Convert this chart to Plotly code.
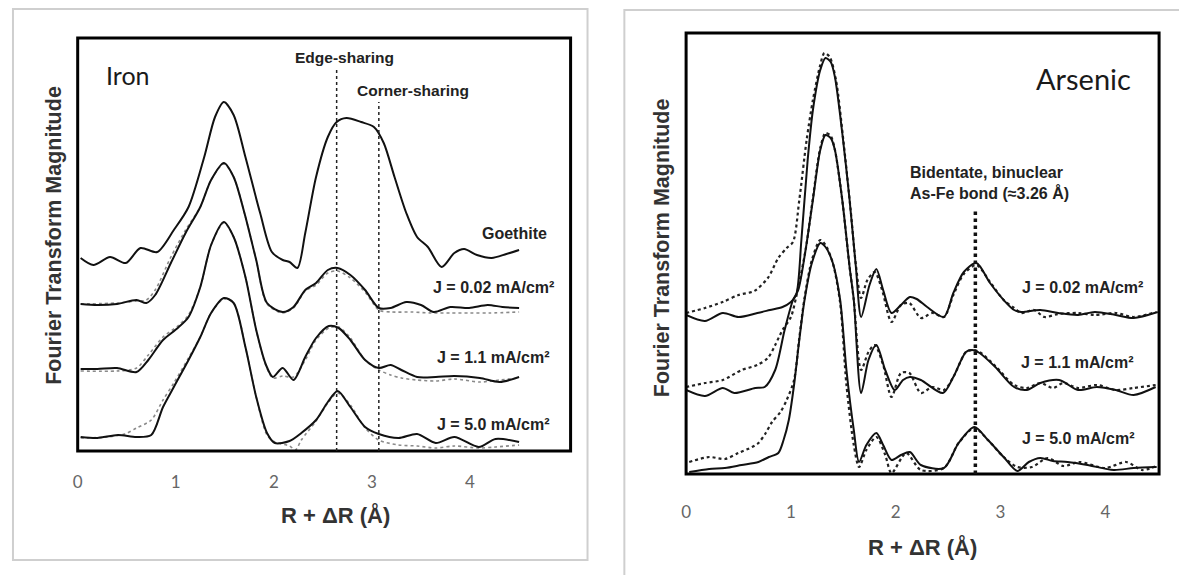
import plotly.graph_objects as go

W, H = 1179, 575

# ---------------- Iron panel (left) ----------------
fe_goethite_r = [0.03,0.16,0.33,0.49,0.64,0.81,0.98,1.13,1.29,1.40,1.49,1.59,1.71,1.86,1.98,2.09,2.16,2.24,2.32,2.43,2.55,2.64,2.74,2.89,3.02,3.12,3.23,3.35,3.46,3.57,3.71,3.84,3.94,4.07,4.22,4.37,4.50]
fe_goethite_y = [193,186,194,188,203,199,221,244,294,334,349,336,294,238,199,191,189,183,218,274,314,329,333,329,324,308,274,238,214,204,184,198,202,196,193,197,201]

fe_j002_r = [0.03,0.2,0.4,0.6,0.7,0.79,0.95,1.10,1.25,1.36,1.49,1.59,1.70,1.82,1.93,2.09,2.20,2.32,2.43,2.55,2.65,2.78,2.93,3.07,3.19,3.35,3.50,3.63,3.80,3.99,4.18,4.33,4.50]
fe_j002_y = [147,146,147,151,148,156,188,218,244,271,288,274,238,191,148,139,144,161,168,181,183,176,161,143,143,149,146,139,144,143,146,144,143]
fe_j002_fit_r = [0.03,0.4,0.6,0.7,0.79,0.95,1.10,1.25,1.36,1.49,1.59,1.70,1.82,1.93,2.09,2.20,2.32,2.43,2.55,2.65,2.78,2.93,3.07,3.2,3.4,3.6,3.8,4.0,4.2,4.5]
fe_j002_fit_y = [147,148,150,151,161,194,221,244,271,287,274,238,191,147,138,143,160,166,178,180,173,159,141,139,139,138,138,138,138,139]

fe_j11_r = [0.03,0.2,0.4,0.6,0.72,0.87,1.02,1.13,1.25,1.36,1.49,1.59,1.71,1.82,1.92,1.99,2.09,2.20,2.32,2.43,2.56,2.66,2.78,2.93,3.07,3.19,3.30,3.46,3.65,3.84,4.10,4.30,4.50]
fe_j11_y = [82,82,83,79,91,111,123,134,164,206,229,214,174,121,86,74,83,71,94,113,125,123,111,91,83,86,81,74,74,75,73,69,74]
fe_j11_fit_r = [0.03,0.4,0.6,0.72,0.87,1.02,1.13,1.25,1.36,1.49,1.59,1.71,1.82,1.92,1.99,2.09,2.20,2.32,2.43,2.56,2.66,2.78,2.93,3.07,3.19,3.30,3.46,3.65,3.84,4.10,4.30,4.50]
fe_j11_fit_y = [80,80,83,96,114,125,136,164,206,228,214,174,121,85,73,75,74,91,111,123,124,113,91,81,76,73,71,70,72,69,71,73]

fe_j50_r = [0.03,0.2,0.41,0.6,0.75,0.87,0.98,1.13,1.25,1.36,1.49,1.59,1.71,1.82,1.93,2.01,2.16,2.28,2.43,2.55,2.65,2.78,2.93,3.07,3.27,3.46,3.65,3.84,4.09,4.26,4.50]
fe_j50_y = [14,13,16,14,16,44,64,91,114,138,153,148,104,54,18,8,10,18,31,49,60,44,24,17,13,17,8,14,4,12,9]
fe_j50_fit_r = [0.03,0.3,0.48,0.6,0.75,0.87,0.98,1.13,1.25,1.36,1.49,1.59,1.71,1.82,1.93,2.01,2.16,2.22,2.28,2.43,2.55,2.65,2.78,2.93,3.07,3.27,3.46,3.65,3.84,4.09,4.26,4.50]
fe_j50_fit_y = [13,14,17,23,31,51,68,93,114,138,152,148,104,54,16,9,5,1,11,30,48,58,46,23,11,6,5,3,5,3,4,6]

# ---------------- Arsenic panel (right) ----------------
as_j002_r = [0,0.18,0.35,0.5,0.68,0.8,0.92,1.0,1.05,1.10,1.16,1.21,1.28,1.33,1.38,1.42,1.49,1.56,1.62,1.67,1.75,1.815,1.88,1.96,2.05,2.135,2.2,2.3,2.46,2.55,2.65,2.77,2.9,3.03,3.13,3.2,3.38,3.55,3.74,3.9,4.1,4.27,4.5]
as_j002_y = [159,153,161,157,161,164,167,172,179,234,314,364,404,416,412,397,341,274,207,157,189,205,184,161,169,177,175,167,157,181,202,211,191,174,164,162,164,161,159,162,159,156,162]
as_j002_fit_r = [0,0.18,0.35,0.5,0.65,0.78,0.88,0.96,1.02,1.08,1.15,1.21,1.28,1.32,1.37,1.43,1.5,1.57,1.62,1.67,1.73,1.8,1.87,1.96,2.05,2.13,2.24,2.35,2.46,2.55,2.65,2.77,2.9,3.03,3.13,3.2,3.32,3.42,3.55,3.74,3.9,4.1,4.27,4.48]
as_j002_fit_y = [161,166,172,179,183,196,216,226,232,274,334,374,409,421,417,394,334,264,209,176,194,202,184,152,169,171,156,161,157,179,200,209,192,174,166,161,164,157,160,161,159,161,157,162]

as_j11_r = [0,0.18,0.35,0.46,0.66,0.75,0.85,0.94,1.02,1.07,1.14,1.21,1.28,1.33,1.38,1.42,1.49,1.56,1.6,1.67,1.74,1.815,1.9,1.99,2.07,2.135,2.24,2.45,2.55,2.67,2.73,2.8,2.95,3.13,3.25,3.38,3.56,3.74,3.92,4.1,4.27,4.48]
as_j11_y = [84,78,86,81,86,87,104,144,174,184,224,274,324,339,336,324,274,207,174,81,114,129,104,84,94,97,94,81,97,122,124,121,107,87,84,91,94,84,87,84,79,87]
as_j11_fit_r = [0,0.18,0.35,0.53,0.68,0.78,0.85,0.92,1.0,1.05,1.14,1.21,1.28,1.33,1.38,1.42,1.49,1.56,1.6,1.67,1.74,1.8,1.88,1.96,2.05,2.13,2.24,2.35,2.46,2.55,2.67,2.73,2.8,2.95,3.13,3.25,3.38,3.5,3.6,3.74,3.92,4.1,4.27,4.48]
as_j11_fit_y = [87,91,94,104,109,116,129,144,157,177,224,276,326,341,338,324,274,207,174,104,122,129,109,77,101,101,81,87,84,97,122,124,122,108,89,86,91,86,91,86,89,84,86,89]

as_j50_r = [0.03,0.22,0.37,0.53,0.69,0.79,0.88,0.93,0.98,1.03,1.08,1.13,1.2,1.28,1.33,1.4,1.47,1.53,1.6,1.65,1.72,1.815,1.88,1.96,2.05,2.135,2.24,2.46,2.6,2.75,2.88,3.03,3.16,3.27,3.38,3.5,3.64,3.83,4.08,4.27,4.49]
as_j50_y = [2,5,6,9,12,17,21,34,54,89,134,174,211,231,227,211,174,104,44,12,29,41,29,14,19,22,9,6,31,47,34,17,3,12,16,13,12,9,4,6,7]
as_j50_fit_r = [0.03,0.22,0.37,0.5,0.63,0.69,0.76,0.82,0.9,0.96,1.03,1.08,1.13,1.2,1.28,1.33,1.4,1.47,1.53,1.6,1.65,1.72,1.815,1.9,1.96,2.1,2.24,2.46,2.6,2.75,2.88,3.03,3.16,3.3,3.45,3.6,3.75,4.0,4.2,4.35,4.49]
as_j50_fit_y = [12,17,15,21,27,31,41,52,62,74,94,136,176,214,234,229,211,171,89,29,7,24,37,19,1,21,4,6,31,46,34,17,7,7,16,8,12,6,12,4,8]

x_ticks = [0, 1, 2, 3, 4]
x_tick_labels = ["0", "1", "2", "3", "4"]
fe_labels = ["Goethite", "J = 0.02 mA/cm²", "J = 1.1 mA/cm²", "J = 5.0 mA/cm²"]
as_labels = ["J = 0.02 mA/cm²", "J = 1.1 mA/cm²", "J = 5.0 mA/cm²"]

fig = go.Figure()

def solid(r, y, xa, ya):
    fig.add_trace(go.Scatter(x=r, y=y, mode="lines", xaxis=xa, yaxis=ya,
                             line=dict(color="#111111", width=2, shape="spline", smoothing=0.8),
                             hoverinfo="skip", showlegend=False))

def fit(r, y, xa, ya, color, width):
    fig.add_trace(go.Scatter(x=r, y=y, mode="lines", xaxis=xa, yaxis=ya,
                             line=dict(color=color, width=width, dash="dot", shape="spline", smoothing=0.8),
                             hoverinfo="skip", showlegend=False))

# Iron
fit(fe_j002_fit_r, fe_j002_fit_y, "x", "y", "#8a8a8a", 1.6)
fit(fe_j11_fit_r, fe_j11_fit_y, "x", "y", "#8a8a8a", 1.6)
fit(fe_j50_fit_r, fe_j50_fit_y, "x", "y", "#8a8a8a", 1.6)
solid(fe_goethite_r, fe_goethite_y, "x", "y")
solid(fe_j002_r, fe_j002_y, "x", "y")
solid(fe_j11_r, fe_j11_y, "x", "y")
solid(fe_j50_r, fe_j50_y, "x", "y")

# Arsenic
fit(as_j002_fit_r, as_j002_fit_y, "x2", "y2", "#222222", 2.2)
fit(as_j11_fit_r, as_j11_fit_y, "x2", "y2", "#222222", 2.2)
fit(as_j50_fit_r, as_j50_fit_y, "x2", "y2", "#222222", 2.2)
solid(as_j002_r, as_j002_y, "x2", "y2")
solid(as_j11_r, as_j11_y, "x2", "y2")
solid(as_j50_r, as_j50_y, "x2", "y2")

tickfont = dict(family="Lato, 'Open Sans', sans-serif", size=17, color="#666666")
common_x = dict(tickvals=x_ticks, ticktext=x_tick_labels, showgrid=False, zeroline=False,
                showline=False, ticks="outside", tickcolor="rgba(0,0,0,0)", tickfont=tickfont)
common_y = dict(showgrid=False, zeroline=False, showline=False, showticklabels=False, ticks="")

fig.update_layout(
    width=W, height=H,
    margin=dict(l=0, r=0, t=0, b=0),
    paper_bgcolor="white", plot_bgcolor="white",
    xaxis=dict(domain=[73 / W, 568 / W], range=[0, 5.025], anchor="y", ticklen=16, **common_x),
    yaxis=dict(domain=[1 - 451 / H, 1 - 38 / H], range=[0, 413], anchor="x", **common_y),
    xaxis2=dict(domain=[684 / W, 1159 / W], range=[0, 4.513], anchor="y2", ticklen=23, **common_x),
    yaxis2=dict(domain=[1 - 474 / H, 1 - 33 / H], range=[0, 441], anchor="x2", **common_y),
)

shapes = []
# outer light frames
shapes.append(dict(type="rect", xref="paper", yref="paper", x0=8 / W, x1=585 / W,
                   y0=1 - 560 / H, y1=1 - 9 / H, line=dict(color="#cfcfcf", width=2), layer="below"))
shapes.append(dict(type="rect", xref="paper", yref="paper", x0=622 / W, x1=1200 / W,
                   y0=-0.05, y1=1 - 10 / H, line=dict(color="#cfcfcf", width=2), layer="below"))
# plot boxes
for xr, yr in (("x domain", "y domain"), ("x2 domain", "y2 domain")):
    shapes.append(dict(type="rect", xref=xr, yref=yr, x0=0, x1=1, y0=0, y1=1,
                       line=dict(color="black", width=3)))
# reference lines
shapes.append(dict(type="line", xref="x", yref="y", x0=2.64, x1=2.64, y0=0, y1=381,
                   line=dict(color="#222222", width=1.5, dash="dot")))
shapes.append(dict(type="line", xref="x", yref="y", x0=3.07, x1=3.07, y0=0, y1=349,
                   line=dict(color="#222222", width=1.5, dash="dot")))
shapes.append(dict(type="line", xref="x2", yref="y2", x0=2.76, x1=2.76, y0=0, y1=266,
                   line=dict(color="#111111", width=3.5, dash="dot")))
fig.update_layout(shapes=shapes)

bold = "Liberation Sans, Arial, sans-serif"
ann = []
def add(text, x, y, xref, yref, size, color="#222222", family=bold, xanchor="center", textangle=0, weight="bold"):
    t = f"<b>{text}</b>" if weight == "bold" else text
    ann.append(dict(text=t, x=x, y=y, xref=xref, yref=yref, showarrow=False,
                    xanchor=xanchor, yanchor="middle", textangle=textangle,
                    font=dict(family=family, size=size, color=color)))

# Iron panel texts
add("Iron", 0.51, 376, "x", "y", 25, color="#1a1a1a", family="Lato, sans-serif", weight="normal")
add("Edge-sharing", 2.72, 394, "x", "y", 15.5)
add("Corner-sharing", 3.42, 361, "x", "y", 15.5)
add(fe_labels[0], 4.45, 218, "x", "y", 16)
add(fe_labels[1], 4.24, 164, "x", "y", 16)
add(fe_labels[2], 4.24, 94, "x", "y", 16)
add(fe_labels[3], 4.24, 27, "x", "y", 16)
add("R + ΔR (Å)", 332 / W, 1 - 515 / H, "paper", "paper", 22, color="#333333")
add("Fourier Transform Magnitude", 49 / W, 1 - 235 / H, "paper", "paper", 21.5, color="#333333", textangle=-90)

# Arsenic panel texts
add("Arsenic", 3.79, 396, "x2", "y2", 29, color="#1a1a1a", family="Lato, sans-serif", weight="normal")
add("Bidentate, binuclear", 2.12, 302, "x2", "y2", 16, xanchor="left")
add("As-Fe bond (≈3.26 Å)", 2.12, 281, "x2", "y2", 16, xanchor="left")
add(as_labels[0], 3.78, 187, "x2", "y2", 16)
add(as_labels[1], 3.73, 112, "x2", "y2", 16)
add(as_labels[2], 3.74, 36, "x2", "y2", 16)
add("R + ΔR (Å)", 921 / W, 1 - 547 / H, "paper", "paper", 22, color="#333333")
add("Fourier Transform Magnitude", 660 / W, 1 - 248 / H, "paper", "paper", 21.5, color="#333333", textangle=-90)

fig.update_layout(annotations=ann)

fig.write_html("out.html")
